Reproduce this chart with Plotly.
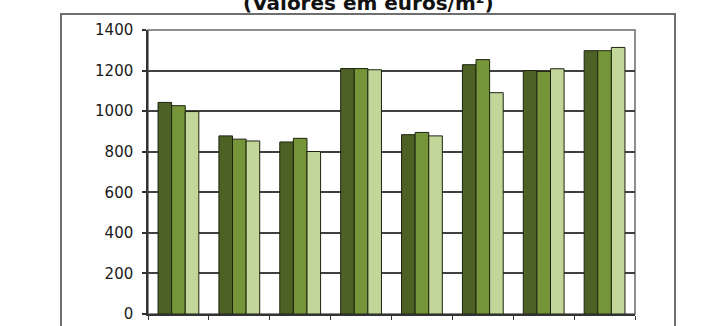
import plotly.graph_objects as go

categories = ["C1", "C2", "C3", "C4", "C5", "C6", "C7", "C8"]
series_a = [1043, 878, 848, 1210, 884, 1229, 1200, 1298]
series_b = [1027, 862, 866, 1210, 895, 1254, 1196, 1298]
series_c = [998, 853, 801, 1204, 878, 1091, 1209, 1314]
series_names = ["Série 1", "Série 2", "Série 3"]
colors = ["#4e6125", "#769438", "#c2d69a"]
y_ticks = [0, 200, 400, 600, 800, 1000, 1200, 1400]
title_text = "(Valores em euros/m²)"

fig = go.Figure()
for name, vals, col in zip(series_names, [series_a, series_b, series_c], colors):
    fig.add_trace(go.Bar(
        x=categories, y=vals, name=name,
        marker=dict(color=col, line=dict(color="#1c2410", width=1)),
    ))

W, H = 712, 326
L, R, T, B = 148, 77, 30, 12
pw, ph = W - L - R, H - T - B

def px_x(x):
    return (x - L) / pw

def px_y(y):
    return (H - B - y) / ph

fig.update_layout(
    width=W, height=H,
    margin=dict(l=L, r=R, t=T, b=B, autoexpand=False),
    paper_bgcolor="white", plot_bgcolor="white",
    barmode="group", bargap=0.33, bargroupgap=0,
    showlegend=False,
    font=dict(family="DejaVu Sans", color="#222222"),
    xaxis=dict(
        showticklabels=False, ticks="outside", tickson="boundaries",
        ticklen=4, tickcolor="#333333", showline=True, linecolor="#333333",
        linewidth=1.5, showgrid=False, mirror=False, automargin=False,
    ),
    yaxis=dict(
        range=[0, 1400], tickvals=y_ticks, ticks="outside", ticklen=4,
        tickcolor="#333333", tickwidth=1.5, showgrid=True, gridcolor="#404040",
        gridwidth=1.5, automargin=False,
        showline=True, linecolor="#333333", linewidth=1.5, zeroline=False,
        tickfont=dict(size=15, color="#1a1a1a", family="DejaVu Sans"),
        ticklabelstandoff=6,
    ),
    shapes=[
        dict(type="rect", xref="paper", yref="paper", x0=0, x1=1, y0=0, y1=1,
             line=dict(color="#6a6a6a", width=1.5), layer="below"),
        dict(type="rect", xref="paper", yref="paper",
             x0=px_x(61), x1=px_x(675), y0=px_y(340), y1=px_y(14),
             line=dict(color="#6e6e6e", width=2)),
    ],
    annotations=[
        dict(text="<b>" + title_text + "</b>", xref="paper", yref="paper",
             x=px_x(368), y=px_y(12), xanchor="center", yanchor="bottom",
             showarrow=False, yshift=-5,
             font=dict(size=20, family="DejaVu Sans", color="#111111")),
    ],
)

fig.write_html("out.html")
